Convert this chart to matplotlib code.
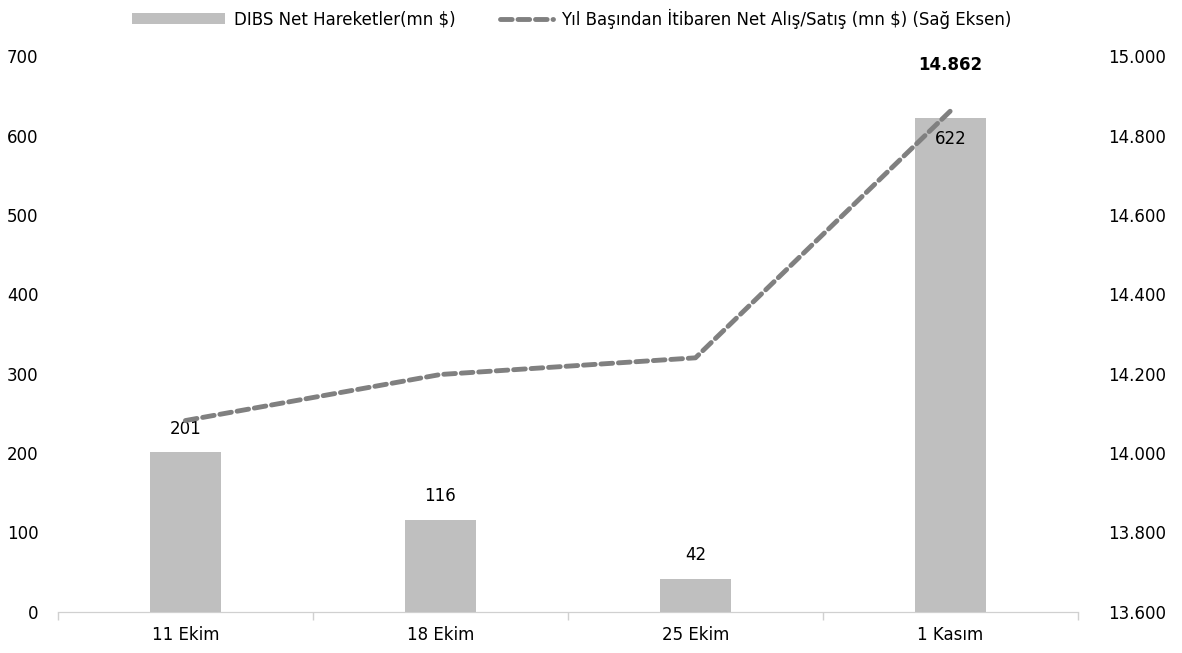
import numpy as np
import matplotlib.pyplot as plt
from matplotlib.ticker import FuncFormatter, FixedLocator

categories = ['11 Ekim', '18 Ekim', '25 Ekim', '1 Kasım']
net_moves = [201, 116, 42, 622]          # DIBS net hareketler (mn $)
ytd_net = [14082, 14198, 14240, 14862]   # yil basindan itibaren (mn $)

plt.rcParams['font.family'] = ['DejaVu Sans']

fig = plt.figure(figsize=(11.82, 6.53), dpi=100)
ax = fig.add_axes([0.049, 0.063, 0.863, 0.851])
ax2 = ax.twinx()

x = np.arange(len(categories))
bars = ax.bar(x, net_moves, width=0.28, color='#bfbfbf', label='DIBS Net Hareketler(mn $)', zorder=2)
line, = ax2.plot(x, ytd_net, color='#808080', lw=3.5, ls=(0, (2.4, 1.2)), dash_capstyle='round',
                 label='Yıl Başından İtibaren Net Alış/Satış (mn $) (Sağ Eksen)', zorder=3)

ax.set_xlim(-0.5, len(categories) - 0.5)
ax.set_ylim(0, 700)
ax.set_yticks(range(0, 701, 100))
ax2.set_ylim(13600, 15000)
ax2.set_yticks(range(13600, 15001, 200))
ax2.yaxis.set_major_formatter(FuncFormatter(lambda v, p: f'{int(v):,}'.replace(',', '.')))

ax.set_xticks(x)
ax.set_xticklabels(categories, fontsize=12)
ax.xaxis.set_minor_locator(FixedLocator(np.arange(-0.5, len(categories), 1)))
ax.tick_params(axis='x', which='major', length=0, pad=10)
ax.tick_params(axis='x', which='minor', length=6, color='#d0d0d0', width=1)
ax.tick_params(axis='y', length=0, labelsize=12, pad=14)
ax2.tick_params(axis='y', length=0, labelsize=12, pad=21.5)

for a in (ax, ax2):
    for s in ('top', 'left', 'right'):
        a.spines[s].set_visible(False)
    a.spines['bottom'].set_color('#d0d0d0')

for i, v in enumerate(net_moves):
    if i == len(net_moves) - 1:
        ax.text(i, v - 15, str(v), ha='center', va='top', fontsize=12)
    else:
        ax.text(i, v + 18, str(v), ha='center', va='bottom', fontsize=12)

ax2.text(x[-1], ytd_net[-1] + 92, f'{ytd_net[-1]:,}'.replace(',', '.'), ha='center', va='bottom',
         fontsize=12, fontweight='bold')

fig.legend(handles=[bars], loc='upper left', bbox_to_anchor=(0.099, 1.007),
           frameon=False, fontsize=12, handlelength=5.6, handletextpad=0.5)
fig.legend(handles=[line], loc='upper left', bbox_to_anchor=(0.41, 1.01),
           frameon=False, fontsize=12, handlelength=3.2, handletextpad=0.5)

fig.savefig('out.png', dpi=100)
